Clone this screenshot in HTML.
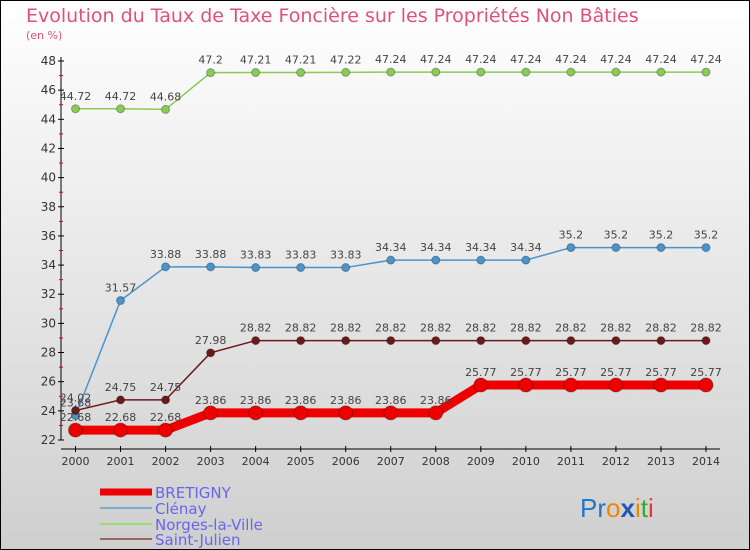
<!DOCTYPE html>
<html><head><meta charset="utf-8"><style>
body{margin:0}
#c{position:relative;width:750px;height:550px;overflow:hidden;font-family:"DejaVu Sans","Liberation Sans",sans-serif}
</style></head><body>
<div id="c">
<svg id="s" width="750" height="550" xmlns="http://www.w3.org/2000/svg">
<defs><linearGradient id="bg" x1="0" y1="0" x2="0" y2="1"><stop offset="0" stop-color="#ffffff"/><stop offset="1" stop-color="#cfcfcf"/></linearGradient></defs>
<rect x="0.5" y="0.5" width="749" height="549" fill="url(#bg)" stroke="#000"/>
<text x="26" y="22" font-size="19" fill="#e0507a">Evolution du Taux de Taxe Foncière sur les Propriétés Non Bâties</text>
<text x="26" y="39" font-size="11" fill="#e0507a">(en %)</text>
<g id="axes"></g><g id="series"></g>
<g>
<line x1="100" y1="492" x2="152" y2="492" stroke="#ee0000" stroke-width="7"/>
<text x="155" y="498" font-size="15" fill="#6666ee">BRETIGNY</text>
<line x1="100" y1="508" x2="152" y2="508" stroke="#7aaed0" stroke-width="2"/>
<text x="155" y="514" font-size="15" fill="#6666ee">Clénay</text>
<line x1="100" y1="524" x2="152" y2="524" stroke="#99dd77" stroke-width="2"/>
<text x="155" y="530" font-size="15" fill="#6666ee">Norges-la-Ville</text>
<line x1="100" y1="539" x2="152" y2="539" stroke="#996666" stroke-width="2"/>
<text x="155" y="545" font-size="15" fill="#6666ee">Saint-Julien</text>
</g>
<g font-size="26" font-family="Liberation Sans,sans-serif">
<text x="580" y="517"><tspan fill="#2277cc">Pr</tspan><tspan fill="#ee8800">o</tspan><tspan fill="#2255bb" font-weight="bold">x</tspan><tspan fill="#ee8800">i</tspan><tspan fill="#33aa33">t</tspan><tspan fill="#ee3333">i</tspan></text>
</g>
</svg></div>
<script>
const years=[2000,2001,2002,2003,2004,2005,2006,2007,2008,2009,2010,2011,2012,2013,2014];
const yTicks=[22,24,26,28,30,32,34,36,38,40,42,44,46,48];
const bretigny=[22.68,22.68,22.68,23.86,23.86,23.86,23.86,23.86,23.86,25.77,25.77,25.77,25.77,25.77,25.77];
const clenay=[23.68,31.57,33.88,33.88,33.83,33.83,33.83,34.34,34.34,34.34,34.34,35.2,35.2,35.2,35.2];
const norges=[44.72,44.72,44.68,47.2,47.21,47.21,47.22,47.24,47.24,47.24,47.24,47.24,47.24,47.24,47.24];
const saintJulien=[24.02,24.75,24.75,27.98,28.82,28.82,28.82,28.82,28.82,28.82,28.82,28.82,28.82,28.82,28.82];
const NS='http://www.w3.org/2000/svg';
const x0=75.5,x1=706,yTop=61,yBot=440,vmin=22,vmax=48;
const X=i=>x0+(x1-x0)*i/(years.length-1);
const Y=v=>yBot-(v-vmin)*(yBot-yTop)/(vmax-vmin);
function mk(t,a,p){const e=document.createElementNS(NS,t);for(const k in a)e.setAttribute(k,a[k]);p.appendChild(e);return e;}
const ax=document.getElementById('axes');
const yl=mk('line',{x1:61,y1:yTop-4,x2:61,y2:yBot,stroke:'#000'},ax);


const xl=mk('line',{x1:61,y1:449,x2:720,y2:449,stroke:'#000'},ax);


yTicks.forEach((v,i)=>{
 mk('line',{x1:58,y1:Y(v),x2:64,y2:Y(v),stroke:'#000'},ax);
 if(i<yTicks.length-1)mk('line',{x1:59,y1:Y(v+1),x2:63,y2:Y(v+1),stroke:'#e00'},ax);
 const t=mk('text',{x:56,y:Y(v)+4,'font-size':12,fill:'#333','text-anchor':'end'},ax);t.textContent=v;
 
 
});
years.forEach((y,i)=>{
 mk('line',{x1:X(i),y1:446,x2:X(i),y2:452,stroke:'#000'},ax);
 const t=mk('text',{x:X(i),y:465,'font-size':11,fill:'#333','text-anchor':'middle'},ax);t.textContent=y;
 
 
});
const sg=document.getElementById('series');
function draw(vals,color,w,r,name){
 const g=mk('g',{},sg);
 
 
 mk('polyline',{points:vals.map((v,i)=>X(i)+','+Y(v)).join(' '),fill:'none',stroke:color,'stroke-width':w},g);
 vals.forEach((v,i)=>{
  const c=mk('circle',{cx:X(i),cy:Y(v),r:r,fill:color,stroke:'rgba(0,0,0,0.3)'},g);
  
  
  const t=mk('text',{x:X(i),y:Y(v)-9,'font-size':11,fill:'#444','text-anchor':'middle'},g);
  t.textContent=String(v);
  
  
 });
}
draw(norges,'#88cc55',1.5,4,'series-norges');
draw(clenay,'#4a94cc',1.5,4,'series-clenay');
draw(saintJulien,'#6b1a1a',1.5,4,'series-saint-julien');
draw(bretigny,'#ee0000',9,7,'series-bretigny');
</script>
</body></html>
